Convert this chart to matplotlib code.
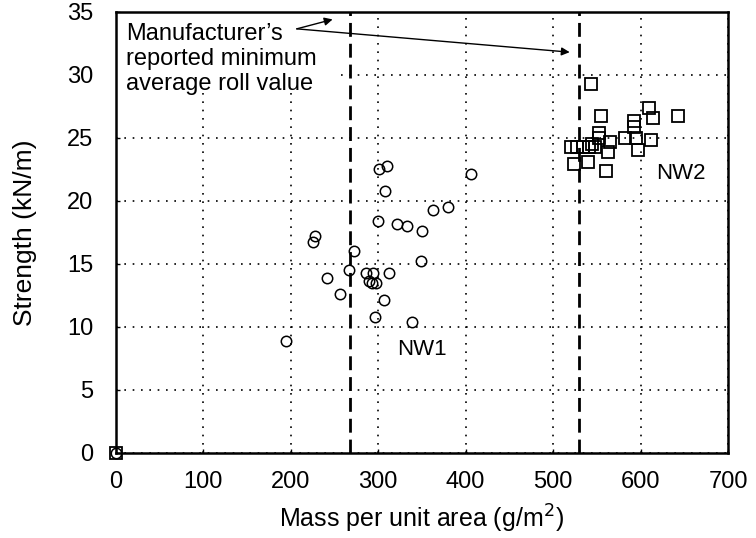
import matplotlib
matplotlib.use("Agg")
import matplotlib.pyplot as plt
from matplotlib.patches import Rectangle

plt.rcParams['font.family'] = ['Liberation Sans', 'DejaVu Sans']

# NW1 samples (circles)
nw1_mass = [0, 301, 310, 406, 308, 363, 380, 300, 322, 333, 350, 228, 226, 272, 349,
            267, 286, 294, 312, 242, 290, 298, 293, 256, 307, 297, 339, 195]
nw1_strength = [0, 22.5, 22.8, 22.1, 20.8, 19.3, 19.5, 18.4, 18.2, 18.0, 17.6, 17.2, 16.7,
                16.05, 15.2, 14.5, 14.3, 14.3, 14.3, 13.9, 13.65, 13.5, 13.5, 12.6, 12.1,
                10.8, 10.4, 8.9]

# NW2 samples (squares)
nw2_mass = [0, 543, 555, 610, 614, 643, 593, 593, 553, 553, 565, 582, 595, 612, 545,
            520, 527, 534, 541, 548, 563, 597, 524, 540, 561]
nw2_strength = [0, 29.3, 26.7, 27.4, 26.6, 26.7, 26.3, 25.9, 25.4, 25.0, 24.7, 25.0, 25.0,
                24.8, 24.5, 24.3, 24.3, 24.3, 24.3, 24.3, 23.9, 24.0, 22.9, 23.1, 22.4]

# Manufacturer's reported minimum average roll values
mara_values = [268, 530]

x_ticks = [0, 100, 200, 300, 400, 500, 600, 700]
y_ticks = [0, 5, 10, 15, 20, 25, 30, 35]

fig = plt.figure(figsize=(7.56, 5.38), dpi=100)
ax = fig.add_axes([0.153, 0.158, 0.81, 0.82])

ax.set_xlim(0, 700)
ax.set_ylim(0, 35)
ax.set_xticks(x_ticks)
ax.set_yticks(y_ticks)
ax.grid(True, linestyle=(0, (1, 4)), color='black', linewidth=1.2)
ax.set_axisbelow(True)

# white area behind the annotation text (hides grid)
ax.add_patch(Rectangle((0, 28.6), 255, 6.4, facecolor='white', edgecolor='none',
                       zorder=1.5))

for v in mara_values:
    ax.axvline(v, color='black', linestyle=(0, (5, 2.5)), linewidth=2, zorder=2)

ax.plot(nw1_mass, nw1_strength, linestyle='none', marker='o', markersize=7.5,
        markerfacecolor='none', markeredgecolor='black', markeredgewidth=1.1,
        clip_on=False, zorder=3)
ax.plot(nw2_mass, nw2_strength, linestyle='none', marker='s', markersize=9,
        markerfacecolor='none', markeredgecolor='black', markeredgewidth=1.3,
        clip_on=False, zorder=3)

ax.text(12, 34.1, "Manufacturer\u2019s\nreported minimum\naverage roll value",
        fontsize=17, va='top', ha='left', linespacing=1.18, zorder=4)

arrow_kw = dict(arrowstyle='-|>', color='black', lw=1.0, mutation_scale=12,
                shrinkA=0, shrinkB=0)
ax.annotate("", xy=(248, 34.4), xytext=(207, 33.65), arrowprops=arrow_kw, zorder=5)
ax.annotate("", xy=(519, 31.8), xytext=(207, 33.65), arrowprops=arrow_kw, zorder=5)

ax.text(350, 8.2, "NW1", fontsize=16, ha='center', va='center')
ax.text(646, 22.2, "NW2", fontsize=16, ha='center', va='center')

ax.set_xlabel("Mass per unit area (g/m$^2$)", fontsize=18, labelpad=7)
ax.set_ylabel("Strength (kN/m)", fontsize=19, labelpad=22)

ax.tick_params(axis='both', labelsize=17, direction='in', length=3, width=1)
ax.tick_params(axis='y', pad=16)
ax.tick_params(axis='x', pad=13)
for side in ['left', 'bottom', 'top', 'right']:
    ax.spines[side].set_linewidth(1.8)
    ax.spines[side].set_color('black')

fig.savefig("out.png", dpi=100)
